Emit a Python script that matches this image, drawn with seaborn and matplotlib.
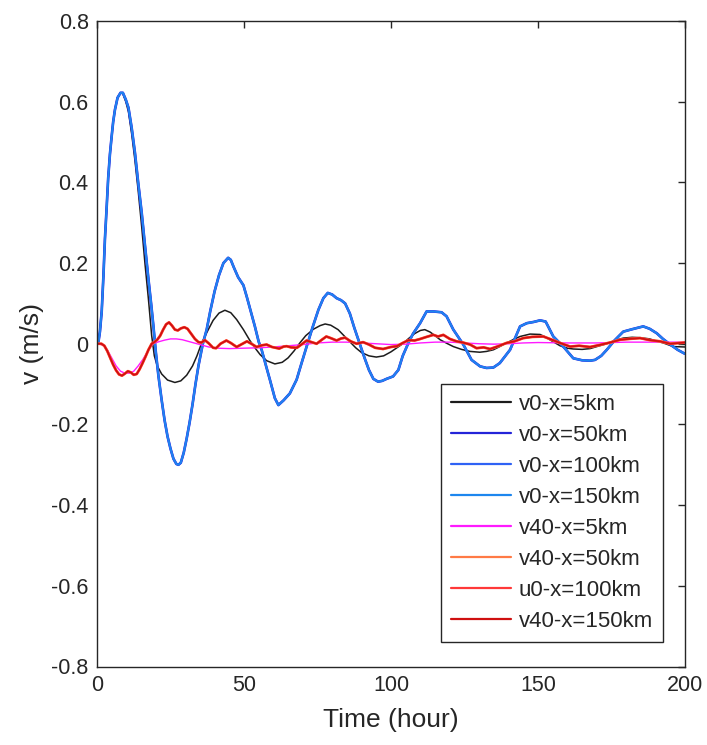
import numpy as np
import pandas as pd
import matplotlib
matplotlib.use("Agg")
import matplotlib.pyplot as plt
import seaborn as sns

# ---------------- data ----------------
x_ticks = [0, 50, 100, 150, 200]
y_ticks = [-0.8, -0.6, -0.4, -0.2, 0.0, 0.2, 0.4, 0.6, 0.8]
y_tick_labels = ['-0.8', '-0.6', '-0.4', '-0.2', '0', '0.2', '0.4', '0.6', '0.8']

# v0 at x=5km (black)
v0_5km_t = [0, 0.5, 1, 1.6, 2.2, 2.7, 3.3, 3.8, 4.4, 5, 5.5, 6.1, 7, 8, 8.8, 9.8, 10.7,
            11.8, 12.9, 14, 15.2, 16.3, 17.5, 18.6, 19.5, 20.5, 22, 24, 26.5, 28.5,
            30.5, 32.5, 34, 35.5, 37.5, 39.5, 41.5, 43.5, 45.5, 47.5, 49.8, 52, 53.7,
            55.5, 57.7, 60.5, 63, 65, 67, 69, 71, 73.6, 75.9, 77.6, 79.5, 82, 84, 86,
            88, 90, 92.5, 95, 97.5, 100, 102, 104, 106, 108, 110, 111.5, 113.3, 115,
            116.7, 119, 121.2, 124, 126.9, 130.2, 132.5, 134.8, 137, 139.3, 141.5,
            143.9, 147.3, 150.7, 152.5, 154, 157.5, 160, 162, 165, 167.7, 170.5,
            173.4, 176, 179, 182, 185, 188, 190.5, 192.6, 196, 200]
v0_5km = [0, 0.005, 0.03, 0.08, 0.17, 0.26, 0.34, 0.41, 0.47, 0.515, 0.55, 0.58, 0.61,
          0.622, 0.62, 0.6, 0.575, 0.52, 0.455, 0.38, 0.29, 0.2, 0.11, 0.02, -0.03,
          -0.055, -0.075, -0.09, -0.096, -0.092, -0.078, -0.055, -0.03, 0.0, 0.03,
          0.058, 0.076, 0.083, 0.077, 0.06, 0.035, 0.008, -0.01, -0.027, -0.042,
          -0.05, -0.046, -0.035, -0.018, 0.002, 0.02, 0.036, 0.045, 0.049, 0.046,
          0.035, 0.02, 0.005, -0.01, -0.022, -0.03, -0.033, -0.03, -0.02, -0.01, 0.0,
          0.013, 0.025, 0.033, 0.035, 0.029, 0.02, 0.01, 0.001, -0.007, -0.014,
          -0.019, -0.021, -0.019, -0.015, -0.007, 0.002, 0.01, 0.018, 0.024, 0.023,
          0.017, 0.01, -0.005, -0.011, -0.013, -0.014, -0.012, -0.006, 0.0, 0.008,
          0.014, 0.016, 0.015, 0.012, 0.006, 0.002, -0.007, -0.008]

# v0 at x=50/100/150km (blue curves, visually coincident)
v0_far_t = [0, 0.5, 1, 1.6, 2.2, 2.7, 3.3, 3.8, 4.4, 5, 5.5, 6.1, 7, 8, 8.8, 9.8, 10.7,
            11.8, 12.9, 14, 15.2, 16.3, 17.5, 18.4, 19.2, 20, 20.9, 22, 23, 24, 25, 26,
            27, 27.7, 28.5, 29.5, 30.5, 31.5, 32.5, 33.5, 34.5, 36, 37.3, 38.5, 40,
            41.5, 43, 44.6, 45.5, 46.5, 48, 49.8, 51, 52.5, 53.7, 55, 56, 57.5, 58.8,
            60.5, 61.7, 63.5, 65.6, 67.9, 69.5, 71.3, 73.3, 75.3, 77, 78.5, 80, 81.5,
            83, 84.4, 86, 87.5, 89.5, 91, 92.5, 94, 95.6, 97, 98.5, 100.7, 102.5, 104,
            105.8, 107.5, 109.9, 112.1, 114.5, 117.2, 118.9, 121.2, 124.6, 127.4,
            130.3, 132.5, 134.8, 137, 140.5, 143.9, 146.2, 148.5, 150.7, 152.6, 155.2,
            158.6, 162, 165, 167.7, 169.4, 171.5, 173.4, 176, 179, 182, 185.8, 188,
            190.4, 192.5, 195, 197.5, 200]
v0_far = [0, 0.005, 0.03, 0.08, 0.17, 0.26, 0.34, 0.41, 0.47, 0.515, 0.55, 0.58, 0.61,
          0.622, 0.622, 0.605, 0.585, 0.535, 0.474, 0.4, 0.325, 0.245, 0.16, 0.1,
          0.043, -0.02, -0.08, -0.14, -0.19, -0.23, -0.26, -0.285, -0.298, -0.3,
          -0.295, -0.27, -0.235, -0.195, -0.15, -0.1, -0.055, 0.0, 0.035, 0.08, 0.13,
          0.17, 0.2, 0.213, 0.208, 0.19, 0.165, 0.145, 0.115, 0.075, 0.043, 0.005,
          -0.015, -0.055, -0.089, -0.135, -0.152, -0.14, -0.123, -0.089, -0.05,
          -0.007, 0.04, 0.084, 0.113, 0.126, 0.122, 0.113, 0.108, 0.1, 0.075, 0.04,
          -0.003, -0.035, -0.065, -0.087, -0.094, -0.092, -0.087, -0.081, -0.065,
          -0.03, 0.0, 0.025, 0.051, 0.08, 0.08, 0.078, 0.068, 0.035, -0.002, -0.04,
          -0.056, -0.06, -0.059, -0.048, -0.015, 0.043, 0.051, 0.054, 0.058, 0.055,
          0.018, -0.007, -0.036, -0.041, -0.042, -0.04, -0.03, -0.015, 0.008, 0.03,
          0.036, 0.043, 0.037, 0.026, 0.012, -0.002, -0.015, -0.025]

# v40 at x=5km (magenta)
v40_5km_t = [0, 2, 3.5, 5, 6.5, 8, 9.5, 11, 12.5, 14, 15.5, 17, 19, 21, 23, 25, 27, 29,
             31, 33, 35.5, 38, 41, 45, 50, 55, 60, 65, 70, 75, 80, 85, 90, 95, 100, 105,
             110, 115, 120, 125, 130, 135, 140, 145, 150, 160, 170, 180, 190, 200]
v40_5km = [0, -0.003, -0.015, -0.035, -0.055, -0.068, -0.073, -0.073, -0.068, -0.055,
           -0.04, -0.022, 0.0, 0.005, 0.009, 0.012, 0.012, 0.01, 0.006, 0.002, -0.003,
           -0.008, -0.011, -0.012, -0.011, -0.01, -0.008, -0.005, -0.002, 0.002, 0.004,
           0.004, 0.002, 0.0, -0.002, -0.001, 0.002, 0.004, 0.004, 0.002, 0.0, -0.001,
           0.0, 0.002, 0.003, 0.002, 0.002, 0.004, 0.004, 0.004]

# v40 at 50/150km and u0 at 100km (red curves, visually coincident)
v40_far_t = [0, 1.5, 2.5, 3.5, 4.5, 5.5, 6.5, 7.5, 8.5, 9.5, 10.5, 11.5, 12.5, 13.5,
             14.5, 15.5, 16.5, 17.5, 18.6, 19.5, 20.5, 21.5, 22.5, 23.5, 24.5, 25.5,
             26.5, 27.5, 28.5, 29.7, 30.8, 32, 33.3, 34.5, 35.5, 36.7, 38, 39.5, 40.5,
             42, 44, 45.5, 47.5, 49, 51, 52.5, 54.3, 56, 57.7, 59.5, 62, 63.5, 64.5,
             66, 68, 69.5, 71.3, 73, 74.7, 76.5, 78, 79.5, 81.5, 83, 84.4, 86.3, 88.3,
             90.5, 92.5, 94.6, 97.3, 100, 102, 104, 106, 108, 110, 112.1, 114.4, 116,
             117.8, 120, 122.3, 124.5, 126.9, 129.1, 131.5, 133.7, 136.5, 139.3, 142,
             145, 148, 151.8, 154, 157.5, 160.9, 164, 167.7, 171, 174.5, 178, 181,
             184.7, 188, 191.5, 195, 198.3, 200]
v40_far = [0, 0.0, -0.005, -0.018, -0.035, -0.052, -0.066, -0.076, -0.079, -0.074,
           -0.068, -0.071, -0.077, -0.075, -0.063, -0.048, -0.032, -0.015, 0.0, 0.004,
           0.01, 0.02, 0.035, 0.048, 0.053, 0.045, 0.035, 0.033, 0.038, 0.041, 0.037,
           0.025, 0.012, 0.004, 0.003, 0.009, 0.001, -0.01, -0.011, 0.0, 0.008, 0.002,
           -0.008, -0.002, 0.006, 0.0, -0.008, -0.004, -0.002, -0.008, -0.012, -0.007,
           -0.006, -0.009, -0.01, -0.002, 0.008, 0.004, 0.0, 0.01, 0.018, 0.014, 0.008,
           0.013, 0.015, 0.006, 0.0, 0.004, -0.002, -0.01, -0.013, -0.008, -0.006,
           0.002, 0.009, 0.008, 0.012, 0.017, 0.022, 0.018, 0.022, 0.012, 0.006, 0.003,
           -0.002, -0.011, -0.009, -0.013, -0.006, 0.002, 0.006, 0.014, 0.017, 0.018,
           0.012, 0.002, -0.007, -0.005, -0.008, -0.003, 0.003, 0.01, 0.012, 0.014,
           0.009, 0.006, 0.0, 0.002, 0.003]

series_names = ['v0-x=5km', 'v0-x=50km', 'v0-x=100km', 'v0-x=150km',
                'v40-x=5km', 'v40-x=50km', 'u0-x=100km', 'v40-x=150km']
series_t = [v0_5km_t, v0_far_t, v0_far_t, v0_far_t,
            v40_5km_t, v40_far_t, v40_far_t, v40_far_t]
series_v = [v0_5km, v0_far, v0_far, v0_far,
            v40_5km, v40_far, v40_far, v40_far]

# ---------------- style ----------------
colors = ['#1c1c1c', '#2424d8', '#2f62f5', '#1d86ee',
          '#ff1aff', '#ff7a45', '#ff3838', '#cf1010']
widths = [1.1, 1.9, 1.6, 1.15, 1.0, 2.0, 1.7, 1.2]

sns.set_theme(style='white')
plt.rcParams['font.family'] = ['Liberation Sans', 'DejaVu Sans']

fig = plt.figure(figsize=(7.07, 7.45), dpi=100)
ax = fig.add_axes([97 / 707, 1 - 666.5 / 745, 588 / 707, 645.5 / 745])

for name, t, v, c, lw in zip(series_names, series_t, series_v, colors, widths):
    sns.lineplot(x=t, y=v, ax=ax, color=c, linewidth=lw, label=name)

ax.set_xlim(0, 200)
ax.set_ylim(-0.8, 0.8)
ax.set_xticks(x_ticks)
ax.set_xticklabels([str(x) for x in x_ticks])
ax.set_yticks(y_ticks)
ax.set_yticklabels(y_tick_labels)

edge = '#262626'
for s in ax.spines.values():
    s.set_color(edge)
    s.set_linewidth(1.0)
    s.set_visible(True)
ax.tick_params(direction='in', length=5, width=1.0, color=edge,
               top=True, right=True, labelsize=15.5, labelcolor='#262626', pad=6)

ax.set_xlabel('Time (hour)', fontsize=19, color='#262626', labelpad=9)
ax.set_ylabel('v (m/s)', fontsize=19, color='#262626', labelpad=5)

leg = ax.legend(loc='upper left', bbox_to_anchor=(0.585, 0.4377), borderaxespad=0,
                fontsize=16, frameon=True, fancybox=False, framealpha=1,
                edgecolor='#262626', handlelength=2.7, handletextpad=0.35,
                labelspacing=0.45, borderpad=0.45)
leg.get_frame().set_linewidth(1.0)
for lh in leg.get_lines():
    lh.set_linewidth(1.6)

fig.savefig('out.png', dpi=100, facecolor='white')
